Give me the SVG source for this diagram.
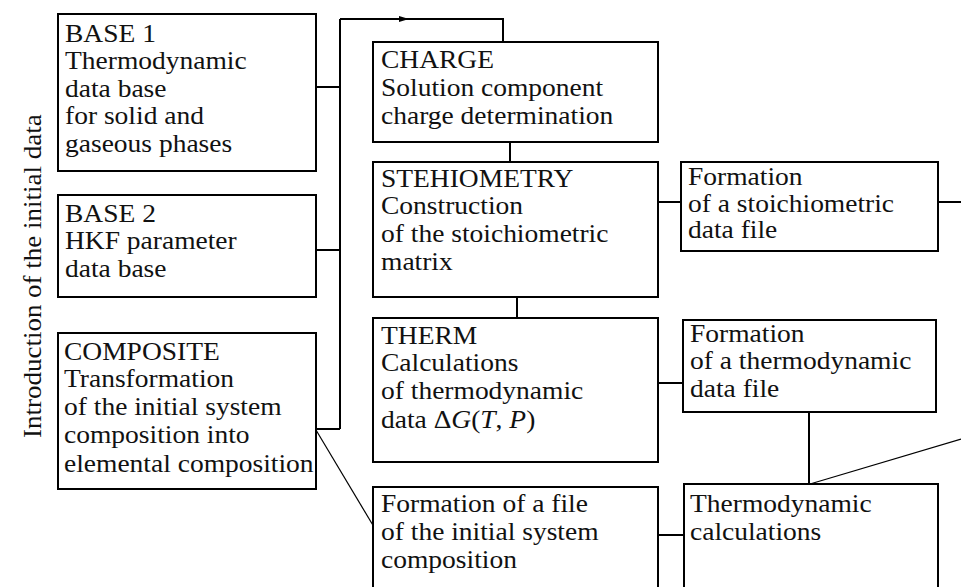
<svg xmlns="http://www.w3.org/2000/svg" width="961" height="587" viewBox="0 0 961 587">
<style>
  .box { fill: #fff; stroke: #000; stroke-width: 2; }
  .t { font-family: "Liberation Serif", "Times New Roman", serif; font-size: 25px; fill: #111; }
  .c { fill: none; stroke: #000; stroke-width: 2; }
  .thin { fill: none; stroke: #000; stroke-width: 1.2; }
  .i { font-style: italic; }
</style>
<defs>
  <marker id="arr" markerWidth="10" markerHeight="6" refX="9" refY="3" orient="auto" markerUnits="userSpaceOnUse">
    <path d="M0,0 L10,3 L0,6 Z" fill="#000"/>
  </marker>
</defs>
<rect width="961" height="587" fill="#fff"/>

<g id="side-label">
  <text class="t" transform="translate(41,438) rotate(-90) scale(1.08,1)">Introduction of the initial data</text>
</g>

<g id="connectors">
  <path class="c" d="M340,19 V429"/>
  <path class="c" d="M316,87 H340"/>
  <path class="c" d="M316,250 H340"/>
  <path class="c" d="M316,429 H340"/>
  <path class="c" d="M340,19 H408" marker-end="url(#arr)"/>
  <path class="c" d="M400,19 H503 V42"/>
  <path class="c" d="M510,142 V162"/>
  <path class="c" d="M517,297 V318"/>
  <path class="c" d="M658,202 H681"/>
  <path class="c" d="M938,202 H961"/>
  <path class="c" d="M658,383 H683"/>
  <path class="c" d="M809,412 V484"/>
  <path class="thin" d="M810,484 L961,439"/>
  <path class="thin" d="M316,430 L374,527"/>
  <path class="c" d="M658,535 H684"/>
</g>

<g id="base1">
  <rect class="box" x="58" y="14" width="258" height="157"/>
  <text class="t" transform="translate(65,42) scale(1.1,1)"><tspan x="0">BASE 1</tspan><tspan x="0" dy="27.5">Thermodynamic</tspan><tspan x="0" dy="27.5">data base</tspan><tspan x="0" dy="27.5">for solid and</tspan><tspan x="0" dy="27.5">gaseous phases</tspan></text>
</g>

<g id="base2">
  <rect class="box" x="58" y="195" width="258" height="102"/>
  <text class="t" transform="translate(65,222) scale(1.1,1)"><tspan x="0">BASE 2</tspan><tspan x="0" dy="27.5">HKF parameter</tspan><tspan x="0" dy="27.5">data base</tspan></text>
</g>

<g id="composite">
  <rect class="box" x="58" y="333" width="258" height="156"/>
  <text class="t" transform="translate(64,360) scale(1.1,1)"><tspan x="0">COMPOSITE</tspan><tspan x="0" dy="27.5">Transformation</tspan><tspan x="0" dy="28">of the initial system</tspan><tspan x="0" dy="28">composition into</tspan><tspan x="0" dy="29">elemental composition</tspan></text>
</g>

<g id="charge">
  <rect class="box" x="373" y="42" width="285" height="100"/>
  <text class="t" transform="translate(381,68) scale(1.1,1)"><tspan x="0">CHARGE</tspan><tspan x="0" dy="28.3">Solution component</tspan><tspan x="0" dy="27.7">charge determination</tspan></text>
</g>

<g id="stehiometry">
  <rect class="box" x="373" y="162" width="285" height="135"/>
  <text class="t" transform="translate(381,187) scale(1.1,1)"><tspan x="0">STEHIOMETRY</tspan><tspan x="0" dy="27.5">Construction</tspan><tspan x="0" dy="27.7">of the stoichiometric</tspan><tspan x="0" dy="28">matrix</tspan></text>
</g>

<g id="therm">
  <rect class="box" x="373" y="318" width="285" height="144"/>
  <text class="t" transform="translate(381,344) scale(1.1,1)"><tspan x="0">THERM</tspan><tspan x="0" dy="27">Calculations</tspan><tspan x="0" dy="28.5">of thermodynamic</tspan><tspan x="0" dy="29">data Δ<tspan class="i">G</tspan>(<tspan class="i">T</tspan>, <tspan class="i">P</tspan>)</tspan></text>
</g>

<g id="formation-file">
  <rect class="box" x="373" y="487" width="285" height="110"/>
  <text class="t" transform="translate(381,512) scale(1.1,1)"><tspan x="0">Formation of a file</tspan><tspan x="0" dy="28">of the initial system</tspan><tspan x="0" dy="28">composition</tspan></text>
</g>

<g id="formation-stoich">
  <rect class="box" x="681" y="162" width="257" height="89"/>
  <text class="t" transform="translate(688,185) scale(1.1,1)"><tspan x="0">Formation</tspan><tspan x="0" dy="26.7">of a stoichiometric</tspan><tspan x="0" dy="26.7">data file</tspan></text>
</g>

<g id="formation-thermo">
  <rect class="box" x="683" y="320" width="253" height="92"/>
  <text class="t" transform="translate(690,342) scale(1.1,1)"><tspan x="0">Formation</tspan><tspan x="0" dy="27.5">of a thermodynamic</tspan><tspan x="0" dy="28">data file</tspan></text>
</g>

<g id="thermo-calc">
  <rect class="box" x="684" y="484" width="254" height="113"/>
  <text class="t" transform="translate(690,512) scale(1.1,1)"><tspan x="0">Thermodynamic</tspan><tspan x="0" dy="28">calculations</tspan></text>
</g>
</svg>
